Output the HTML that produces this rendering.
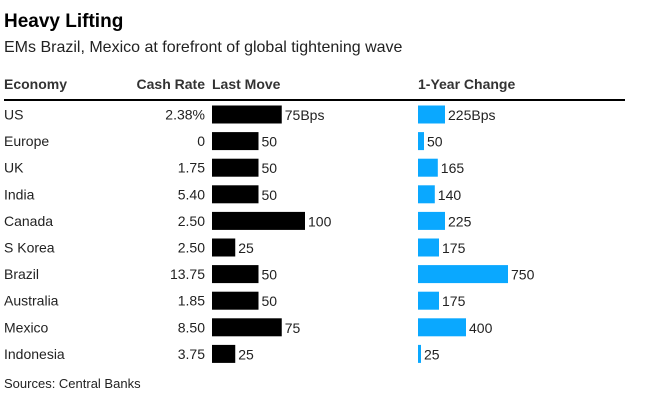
<!DOCTYPE html>
<html><head><meta charset="utf-8"><style>
body{margin:0;background:#fff;font-family:"Liberation Sans",sans-serif;color:#222;}
svg text{font-family:"Liberation Sans",sans-serif;}
</style></head><body>
<svg width="648" height="409" xmlns="http://www.w3.org/2000/svg">
<text x="4" y="27" font-size="19" font-weight="bold" fill="#000">Heavy Lifting</text>
<text x="4" y="52" font-size="16" fill="#222">EMs Brazil, Mexico at forefront of global tightening wave</text>
<g font-size="14" font-weight="bold" fill="#333">
<text x="4" y="89">Economy</text>
<text x="205" y="89" text-anchor="end">Cash Rate</text>
<text x="212" y="89">Last Move</text>
<text x="418" y="89">1-Year Change</text>
</g>
<rect x="4" y="99" width="621" height="2" fill="#000"/>
<g id="rows"></g>
<text x="4" y="388" font-size="13" fill="#222">Sources: Central Banks</text>
</svg>
<script>
const economies=["US","Europe","UK","India","Canada","S Korea","Brazil","Australia","Mexico","Indonesia"];
const cashRates=["2.38%","0","1.75","5.40","2.50","2.50","13.75","1.85","8.50","3.75"];
const lastMove=[75,50,50,50,100,25,50,50,75,25];
const yearChange=[225,50,165,140,225,175,750,175,400,25];
const NS="http://www.w3.org/2000/svg";
const g=document.getElementById('rows');
const xLast=v=>v*0.93, xYear=v=>v*0.12;
function mk(tag,attrs,txt){const e=document.createElementNS(NS,tag);for(const k in attrs)e.setAttribute(k,attrs[k]);if(txt!==undefined)e.textContent=txt;g.appendChild(e);return e;}
economies.forEach((name,i)=>{
  const cy=114.5+i*26.6;
  let e=mk('text',{x:4,y:cy+5,'font-size':14,fill:'#222'},name);
  
  
  e=mk('text',{x:205,y:cy+5,'font-size':14,fill:'#222','text-anchor':'end'},cashRates[i]);
  
  
  const w1=xLast(lastMove[i]);
  e=mk('rect',{x:212,y:cy-9,width:w1,height:18,fill:'#000'});
  
  
  e=mk('text',{x:212+w1+3,y:cy+5.5,'font-size':14,fill:'#222'},lastMove[i]+(i===0?'Bps':''));
  
  
  const w2=xYear(yearChange[i]);
  e=mk('rect',{x:418,y:cy-9,width:w2,height:18,fill:'#0aa8ff'});
  
  
  e=mk('text',{x:418+w2+3,y:cy+5.5,'font-size':14,fill:'#222'},yearChange[i]+(i===0?'Bps':''));
  
  
});
</script>
</body></html>
